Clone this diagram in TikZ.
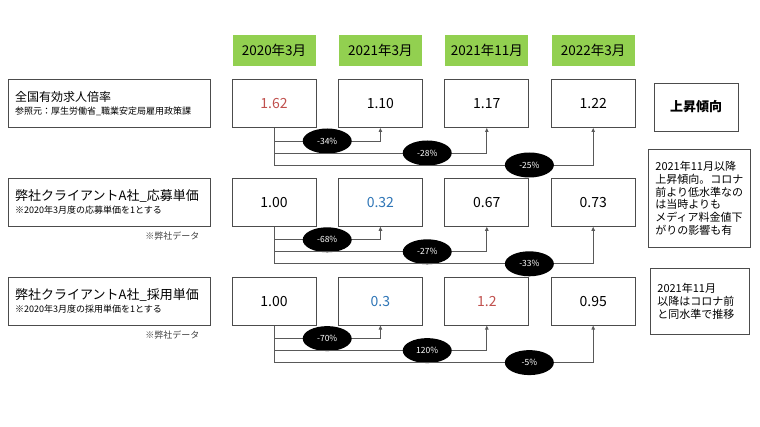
\documentclass[tikz,border=0pt]{standalone}
\usepackage{fontspec}
\setmainfont{Noto Sans CJK JP}
\usepackage{tikz}
\usetikzlibrary{positioning,arrows.meta,shapes.geometric,calc}
\definecolor{hdrgreen}{HTML}{92D050}
\definecolor{upred}{HTML}{C0504D}
\definecolor{downblue}{HTML}{2E75B6}
\newcommand{\fsz}[1]{\fontsize{#1}{#1}\selectfont}

\begin{document}
\begin{tikzpicture}[
  x=1pt, y=-1pt,
  hdr/.style={fill=hdrgreen, minimum width=83pt, minimum height=31pt, inner sep=0pt, font=\fsz{13.5}},
  val/.style={draw=black!70, line width=0.8pt, minimum width=84pt, minimum height=48pt, inner sep=0pt, font=\fsz{14}},
  lbl/.style={draw=black!70, line width=0.8pt, text width=188pt, inner xsep=7pt, minimum height=48pt, align=left},
  note/.style={draw=black!70, line width=0.8pt, align=left, anchor=north west, inner xsep=7pt,
    font=\fontsize{11}{12.8}\selectfont},
  pct/.style={ellipse, fill=black, text=white, minimum width=49pt, minimum height=25pt, inner sep=0pt, font=\fsz{8.5}},
  arr/.style={-{Triangle[length=4pt,width=3.5pt]}, black!65, line width=0.8pt},
  src/.style={font=\fsz{9}, text=black!75, inner sep=0pt, anchor=north east}]
\useasboundingbox (0,0) rectangle (760,427);
% column headers
\node[hdr] (hd1) at (274,50.5) {2020年3月};
\node[hdr, right=23pt of hd1] (hd2) {2021年3月};
\node[hdr, right=23pt of hd2] (hd3) {2021年11月};
\node[hdr, right=23pt of hd3] (hd4) {2022年3月};
% row 1
\node[val, text=upred, below=13pt of hd1] (rate1) {1.62};
\node[val, below=13pt of hd2] (rate2) {1.10};
\node[val, below=13pt of hd3] (rate3) {1.17};
\node[val, below=13pt of hd4] (rate4) {1.22};
\node[lbl, left=21pt of rate1] (rateLbl) {{\fsz{12}全国有効求人倍率}\\[1pt]{\fsz{9}参照元：厚生労働省\_職業安定局雇用政策課}};
\node[val, font=\bfseries\fsz{13}] (trend) at (696,107) {上昇傾向};
% row 2
\node[val, below=50pt of rate1] (appl1) {1.00};
\node[val, text=downblue, below=50pt of rate2] (appl2) {0.32};
\node[val, below=50pt of rate3] (appl3) {0.67};
\node[val, below=50pt of rate4] (appl4) {0.73};
\node[lbl, left=21pt of appl1] (applLbl) {{\fsz{13}弊社クライアントA社\_応募単価}\\[1pt]{\fsz{9}※2020年3月度の応募単価を1とする}};
\node[src] (srcAppl) at ($(applLbl.south east)+(-11,5)$) {※弊社データ};
\node[note, text width=88pt, minimum height=98pt] (noteAppl) at (648,149)
  {2021年11月以降\\上昇傾向。コロナ\\前より低水準なの\\は当時よりも\\メディア料金値下\\がりの影響も有};
% row 3
\node[val, below=50pt of appl1] (hire1) {1.00};
\node[val, text=downblue, below=50pt of appl2] (hire2) {0.3};
\node[val, text=upred, below=50pt of appl3] (hire3) {1.2};
\node[val, below=50pt of appl4] (hire4) {0.95};
\node[lbl, left=21pt of hire1] (hireLbl) {{\fsz{13}弊社クライアントA社\_採用単価}\\[1pt]{\fsz{9}※2020年3月度の採用単価を1とする}};
\node[src] (srcHire) at ($(hireLbl.south east)+(-11,5)$) {※弊社データ};
\node[note, text width=85pt, minimum height=66pt] (noteHire) at (650,268)
  {2021年11月\\以降はコロナ前\\と同水準で推移};
% change rates
\draw[arr] (rate1.south) |- node[pct, pos=0.75] {-34\%} ($(rate2.south)+(0,13)$) -- (rate2.south);
\draw[arr] (rate1.south) |- node[pct, pos=0.86] {-28\%} ($(rate3.south)+(0,25)$) -- (rate3.south);
\draw[arr] (rate1.south) |- node[pct, pos=0.9] {-25\%} ($(rate4.south)+(0,37)$) -- (rate4.south);
\draw[arr] (appl1.south) |- node[pct, pos=0.75] {-68\%} ($(appl2.south)+(0,13)$) -- (appl2.south);
\draw[arr] (appl1.south) |- node[pct, pos=0.86] {-27\%} ($(appl3.south)+(0,25)$) -- (appl3.south);
\draw[arr] (appl1.south) |- node[pct, pos=0.9] {-33\%} ($(appl4.south)+(0,37)$) -- (appl4.south);
\draw[arr] (hire1.south) |- node[pct, pos=0.75] {-70\%} ($(hire2.south)+(0,13)$) -- (hire2.south);
\draw[arr] (hire1.south) |- node[pct, pos=0.86] {120\%} ($(hire3.south)+(0,25)$) -- (hire3.south);
\draw[arr] (hire1.south) |- node[pct, pos=0.9] {-5\%} ($(hire4.south)+(0,37)$) -- (hire4.south);
\end{tikzpicture}
\end{document}
